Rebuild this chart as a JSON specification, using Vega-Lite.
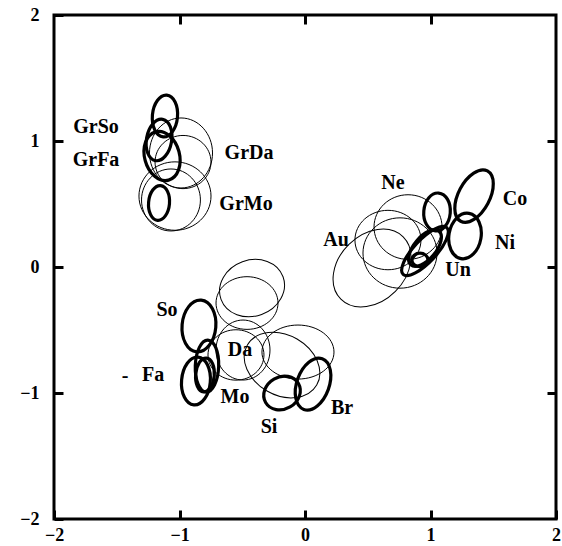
{
  "$schema": "https://vega.github.io/schema/vega-lite/v6.json",
  "width": 502,
  "height": 504,
  "autosize": {"type": "none"},
  "padding": {"left": 54, "top": 15, "right": 6, "bottom": 27},
  "background": "white",
  "config": {
    "view": {"stroke": "black", "strokeWidth": 3},
    "axis": {
      "domain": false, "grid": false, "tickColor": "black", "tickWidth": 3, "tickSize": -9,
      "labelFont": "Liberation Serif", "labelFontWeight": "bold", "labelFontSize": 18,
      "labelColor": "black", "title": null, "labelFlush": false, "labelOverlap": false
    }
  },
  "datasets": {
    "ellipses": [
      {"x": -1.116, "y": 1.198, "a": 0.167, "ratio": 0.6, "angle": 95, "weight": "bold"},
      {"x": -1.163, "y": 1.008, "a": 0.167, "ratio": 0.6, "angle": 100, "weight": "bold"},
      {"x": -1.139, "y": 0.881, "a": 0.199, "ratio": 0.7, "angle": 75, "weight": "bold"},
      {"x": -1.163, "y": 0.508, "a": 0.139, "ratio": 0.6, "angle": 95, "weight": "bold"},
      {"x": -0.988, "y": 0.905, "a": 0.279, "ratio": 0.9, "angle": 90, "weight": "thin"},
      {"x": -0.972, "y": 0.833, "a": 0.223, "ratio": 0.95, "angle": 0, "weight": "thin"},
      {"x": -1.036, "y": 0.563, "a": 0.287, "ratio": 0.95, "angle": 0, "weight": "thin"},
      {"x": -1.068, "y": 0.532, "a": 0.247, "ratio": 0.95, "angle": 90, "weight": "thin"},
      {"x": 1.347, "y": 0.563, "a": 0.227, "ratio": 0.55, "angle": 118, "weight": "bold"},
      {"x": 1.052, "y": 0.437, "a": 0.151, "ratio": 0.7, "angle": 95, "weight": "bold"},
      {"x": 1.275, "y": 0.246, "a": 0.183, "ratio": 0.7, "angle": 100, "weight": "bold"},
      {"x": 0.956, "y": 0.127, "a": 0.255, "ratio": 0.35, "angle": 133, "weight": "bold"},
      {"x": 0.956, "y": 0.151, "a": 0.175, "ratio": 0.5, "angle": 130, "weight": "bold"},
      {"x": 0.916, "y": 0.056, "a": 0.064, "ratio": 0.85, "angle": 0, "weight": "bold"},
      {"x": 0.821, "y": 0.317, "a": 0.271, "ratio": 0.95, "angle": 0, "weight": "thin"},
      {"x": 0.757, "y": 0.111, "a": 0.295, "ratio": 0.95, "angle": 0, "weight": "thin"},
      {"x": 0.534, "y": -0.008, "a": 0.351, "ratio": 0.75, "angle": 135, "weight": "thin"},
      {"x": 0.661, "y": 0.214, "a": 0.263, "ratio": 0.9, "angle": 0, "weight": "thin"},
      {"x": -0.845, "y": -0.468, "a": 0.207, "ratio": 0.65, "angle": 95, "weight": "bold"},
      {"x": -0.869, "y": -0.905, "a": 0.191, "ratio": 0.6, "angle": 95, "weight": "bold"},
      {"x": -0.781, "y": -0.786, "a": 0.207, "ratio": 0.45, "angle": 92, "weight": "bold"},
      {"x": -0.797, "y": -0.857, "a": 0.135, "ratio": 0.55, "angle": 95, "weight": "bold"},
      {"x": -0.183, "y": -1.0, "a": 0.151, "ratio": 0.85, "angle": 150, "weight": "bold"},
      {"x": 0.064, "y": -0.929, "a": 0.215, "ratio": 0.6, "angle": 110, "weight": "bold"},
      {"x": -0.422, "y": -0.167, "a": 0.263, "ratio": 0.85, "angle": 160, "weight": "thin"},
      {"x": -0.462, "y": -0.286, "a": 0.247, "ratio": 0.85, "angle": 0, "weight": "thin"},
      {"x": -0.494, "y": -0.659, "a": 0.239, "ratio": 0.9, "angle": 90, "weight": "thin"},
      {"x": -0.55, "y": -0.698, "a": 0.223, "ratio": 0.9, "angle": 0, "weight": "thin"},
      {"x": -0.056, "y": -0.675, "a": 0.287, "ratio": 0.75, "angle": 0, "weight": "thin"},
      {"x": -0.183, "y": -0.778, "a": 0.319, "ratio": 0.75, "angle": 30, "weight": "thin"}
    ],
    "labels": [
      {"x": -1.665, "y": 1.111, "label": "GrSo"},
      {"x": -1.665, "y": 0.849, "label": "GrFa"},
      {"x": -0.446, "y": 0.905, "label": "GrDa"},
      {"x": -0.47, "y": 0.5, "label": "GrMo"},
      {"x": 0.701, "y": 0.667, "label": "Ne"},
      {"x": 1.673, "y": 0.54, "label": "Co"},
      {"x": 0.247, "y": 0.214, "label": "Au"},
      {"x": 1.594, "y": 0.19, "label": "Ni"},
      {"x": 1.219, "y": -0.024, "label": "Un"},
      {"x": -1.1, "y": -0.341, "label": "So"},
      {"x": -0.518, "y": -0.659, "label": "Da"},
      {"x": -1.211, "y": -0.857, "label": "Fa"},
      {"x": -1.434, "y": -0.865, "label": "-"},
      {"x": -0.558, "y": -1.032, "label": "Mo"},
      {"x": -0.287, "y": -1.27, "label": "Si"},
      {"x": 0.295, "y": -1.119, "label": "Br"}
    ]
  },
  "layer": [
    {
      "data": {"name": "ellipses"},
      "mark": {"type": "point", "filled": false, "stroke": "black", "opacity": 1},
      "encoding": {
        "x": {"field": "x", "type": "quantitative", "scale": {"domain": [-2, 2], "nice": false, "zero": false},
              "axis": {"orient": "bottom", "values": [-2, -1, 0, 1, 2], "labelPadding": 16}},
        "y": {"field": "y", "type": "quantitative", "scale": {"domain": [-2, 2], "nice": false, "zero": false},
              "axis": {"orient": "left", "values": [-2, -1, 0, 1, 2], "labelPadding": 24}},
        "size": {"field": "a", "type": "quantitative", "scale": {"type": "pow", "exponent": 2, "domain": [0, 1], "range": [0, 63001]}, "legend": null},
        "shape": {"field": "ratio", "type": "nominal", "legend": null, "scale": {
          "domain": [0.35, 0.45, 0.5, 0.55, 0.6, 0.65, 0.7, 0.75, 0.85, 0.9, 0.95],
          "range": [
            "M-1,0A1,0.35,0,1,0,1,0A1,0.35,0,1,0,-1,0Z",
            "M-1,0A1,0.45,0,1,0,1,0A1,0.45,0,1,0,-1,0Z",
            "M-1,0A1,0.5,0,1,0,1,0A1,0.5,0,1,0,-1,0Z",
            "M-1,0A1,0.55,0,1,0,1,0A1,0.55,0,1,0,-1,0Z",
            "M-1,0A1,0.6,0,1,0,1,0A1,0.6,0,1,0,-1,0Z",
            "M-1,0A1,0.65,0,1,0,1,0A1,0.65,0,1,0,-1,0Z",
            "M-1,0A1,0.7,0,1,0,1,0A1,0.7,0,1,0,-1,0Z",
            "M-1,0A1,0.75,0,1,0,1,0A1,0.75,0,1,0,-1,0Z",
            "M-1,0A1,0.85,0,1,0,1,0A1,0.85,0,1,0,-1,0Z",
            "M-1,0A1,0.9,0,1,0,1,0A1,0.9,0,1,0,-1,0Z",
            "M-1,0A1,0.95,0,1,0,1,0A1,0.95,0,1,0,-1,0Z"
          ]}},
        "angle": {"field": "angle", "type": "quantitative", "scale": null},
        "strokeWidth": {"field": "weight", "type": "nominal", "scale": {"domain": ["bold", "thin"], "range": [3.2, 1]}, "legend": null}
      }
    },
    {
      "data": {"name": "labels"},
      "mark": {"type": "text", "font": "Liberation Serif", "fontWeight": "bold", "fontSize": 20, "color": "black", "align": "center", "baseline": "middle"},
      "encoding": {
        "x": {"field": "x", "type": "quantitative", "axis": {"orient": "top", "values": [-1, 0, 1], "labels": false}},
        "y": {"field": "y", "type": "quantitative", "axis": {"orient": "right", "values": [-1, 0, 1], "labels": false}},
        "text": {"field": "label", "type": "nominal"}
      }
    }
  ]
}
